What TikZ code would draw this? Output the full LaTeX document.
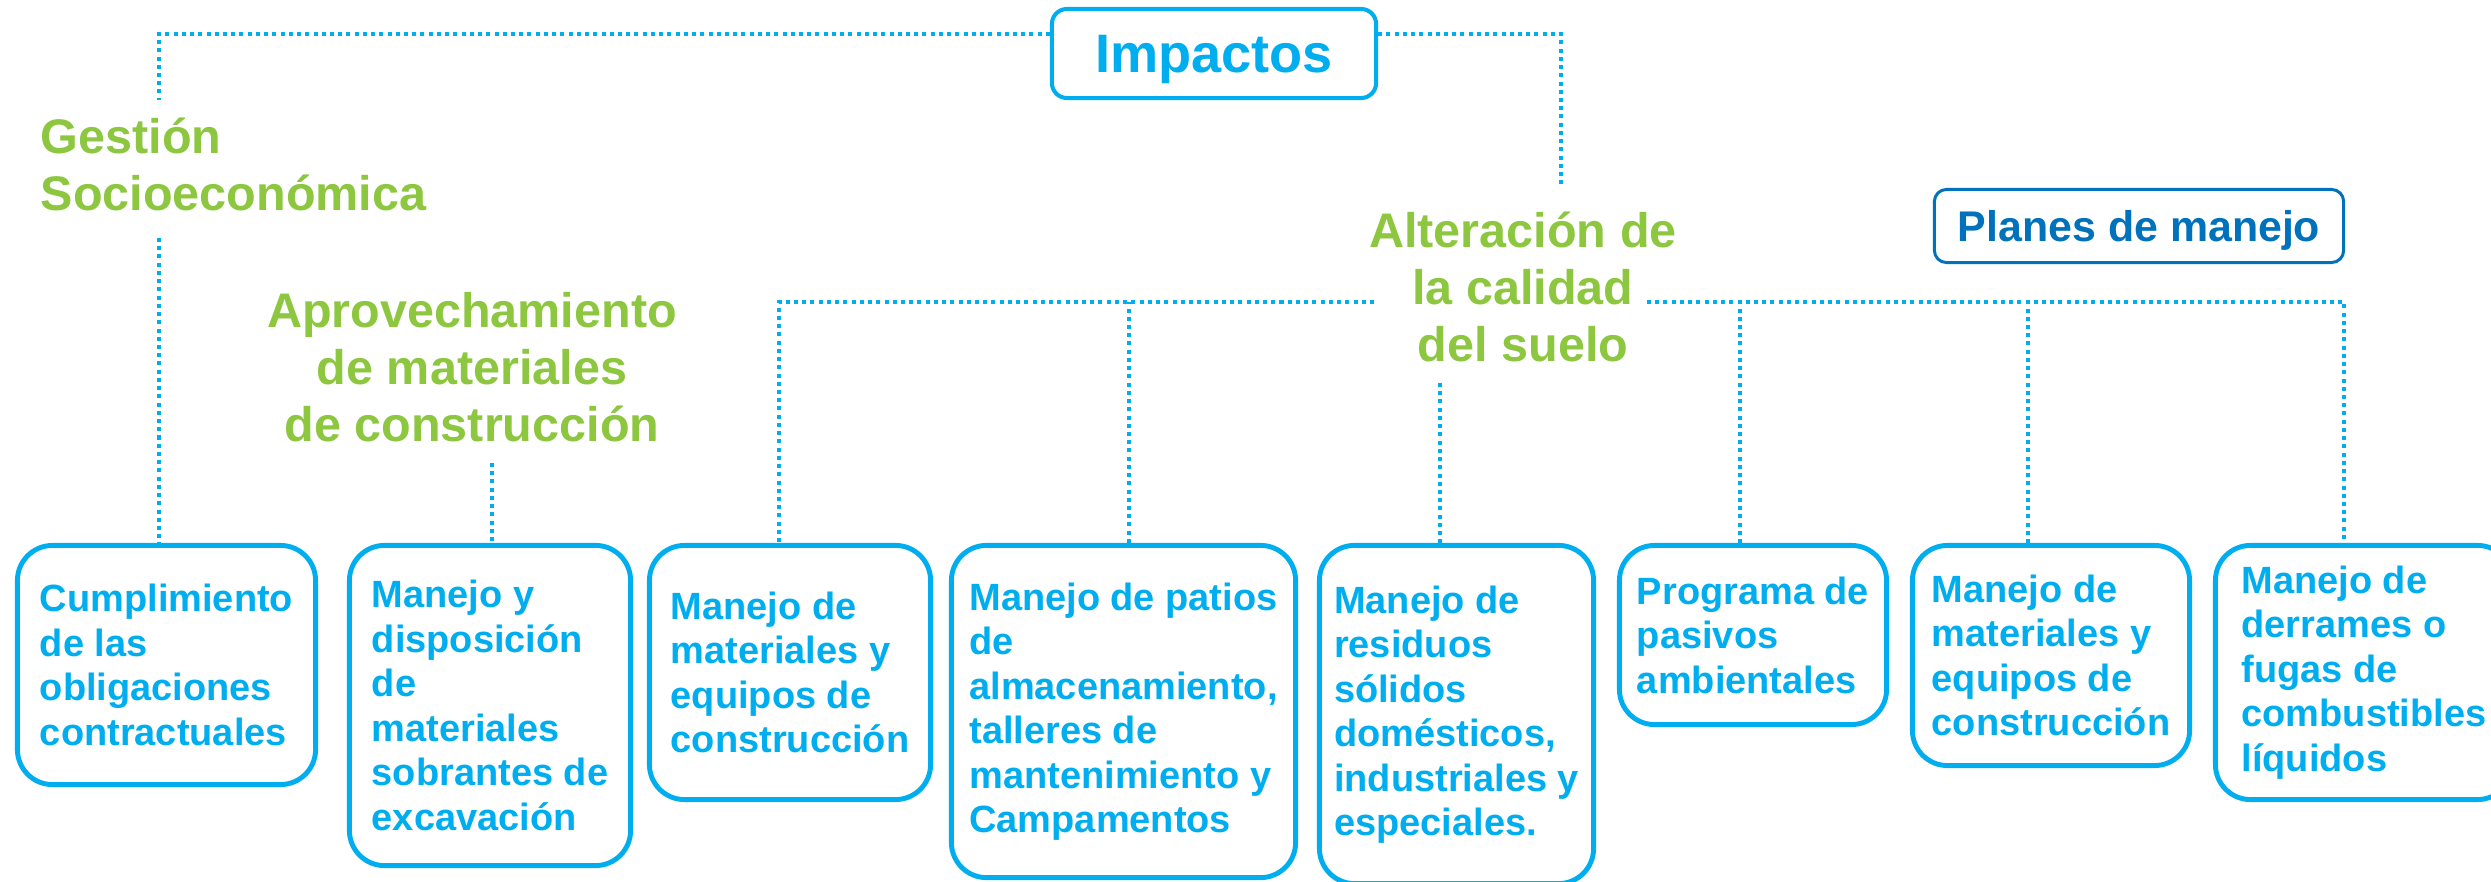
\documentclass[tikz,border=0pt]{standalone}
\usepackage{fontspec}
\setmainfont{Liberation Sans}
\usepackage{tikz}
\usetikzlibrary{calc, positioning}
\definecolor{MainCyan}{RGB}{0,174,239}
\definecolor{LeafGreen}{RGB}{141,198,63}
\definecolor{DeepBlue}{RGB}{0,114,188}

\begin{document}
\begin{tikzpicture}[
  x=0.01cm, y=-0.01cm,
  planbox/.style={draw=MainCyan, line width=1.4pt, rounded corners=0.35cm,
    text=MainCyan, align=left, inner sep=0pt,
    font=\fontsize{10.8}{12.66}\selectfont\bfseries},
  impactlabel/.style={text=LeafGreen, inner sep=0pt,
    font=\fontsize{13.8}{16.2}\selectfont\bfseries},
  rootbox/.style={draw=MainCyan, line width=1.15pt, rounded corners=0.15cm,
    text=MainCyan, text depth=0pt, minimum width=3.24cm, minimum height=0.89cm,
    font=\fontsize{15.4}{18}\selectfont\bfseries},
  tagbox/.style={draw=DeepBlue, line width=0.85pt, rounded corners=0.12cm,
    text=DeepBlue, text depth=0pt, minimum width=4.09cm, minimum height=0.73cm,
    font=\fontsize{12.2}{14}\selectfont\bfseries},
  dotlink/.style={draw=MainCyan, line width=1.14pt, dash pattern=on 1.14pt off 1.2pt}
]
\useasboundingbox (0,0) rectangle (2491,882);

% top of the tree
\node[rootbox] (imp) at (1214,53.5) {Impactos};
\node[tagbox] (plan) at (2139,226) {Planes de manejo};

% impacts
\node[impactlabel, align=left, anchor=west] (ges) at (40,164) {Gestión\\Socioeconómica};
\node[impactlabel, align=center] (apr) at (472,367.5) {Aprovechamiento\\de materiales\\de construcción};
\node[impactlabel, align=center] (alt) at (1523,287) {Alteración de\\la calidad\\del suelo};

% management plans
\node[planbox, minimum width=2.98cm, minimum height=2.39cm] (b1) at (166.5,665)
  {Cumplimiento\\de las\\obligaciones\\contractuales};
\node[planbox, minimum width=2.81cm, minimum height=3.20cm] (b2) at (490,705.5)
  {Manejo y\\disposición\\de\\materiales\\sobrantes de\\excavación};
\node[planbox, minimum width=2.81cm, minimum height=2.54cm] (b3) at (790,672.5)
  {Manejo de\\materiales y\\equipos de\\construcción};
\node[planbox, minimum width=3.44cm, minimum height=3.32cm] (b4) at (1123.5,711.5)
  {Manejo de patios\\de\\almacenamiento,\\talleres de\\mantenimiento y\\Campamentos};
\node[planbox, minimum width=2.74cm, minimum height=3.38cm] (b5) at (1456.5,714.5)
  {Manejo de\\residuos\\sólidos\\domésticos,\\industriales y\\especiales.};
\node[planbox, minimum width=2.67cm, minimum height=1.79cm] (b6) at (1753,635)
  {Programa de\\pasivos\\ambientales};
\node[planbox, minimum width=2.77cm, minimum height=2.20cm] (b7) at (2051,655.5)
  {Manejo de\\materiales y\\equipos de\\construcción};
\node[planbox, minimum width=2.97cm, minimum height=2.54cm] (b8) at (2364,672.5)
  {Manejo de\\derrames o\\fugas de\\combustibles\\líquidos};

% dotted connectors
\coordinate (topline) at (0,34);
\coordinate (gesUp) at (159,100);
\coordinate (gesDown) at (159,238);
\coordinate (altUp) at (1561,187);
\coordinate (aprDown) at (492,463);
\coordinate (altDown) at (1440,383);
\coordinate (altL) at (1374,302);
\coordinate (altR) at (1647,302);

\draw[dotlink] (imp.west |- topline) -| (gesUp);
\draw[dotlink] (imp.east |- topline) -| (altUp);
\draw[dotlink] (gesDown) -- (gesDown |- b1.north);
\draw[dotlink] (aprDown) -- (aprDown |- b2.north);
\draw[dotlink] (altDown) -- (altDown |- b5.north);
\draw[dotlink] (altL) -| ([xshift=-0.11cm]b3.north);
\draw[dotlink] ([xshift=0.055cm]b4.north) -- ([xshift=0.055cm]b4.north |- altL);
\draw[dotlink] (altR) -| ([xshift=-0.2cm]b8.north);
\draw[dotlink] ([xshift=-0.13cm]b6.north) -- ([xshift=-0.13cm]b6.north |- altR);
\draw[dotlink] ([xshift=-0.23cm]b7.north) -- ([xshift=-0.23cm]b7.north |- altR);
\end{tikzpicture}
\end{document}
